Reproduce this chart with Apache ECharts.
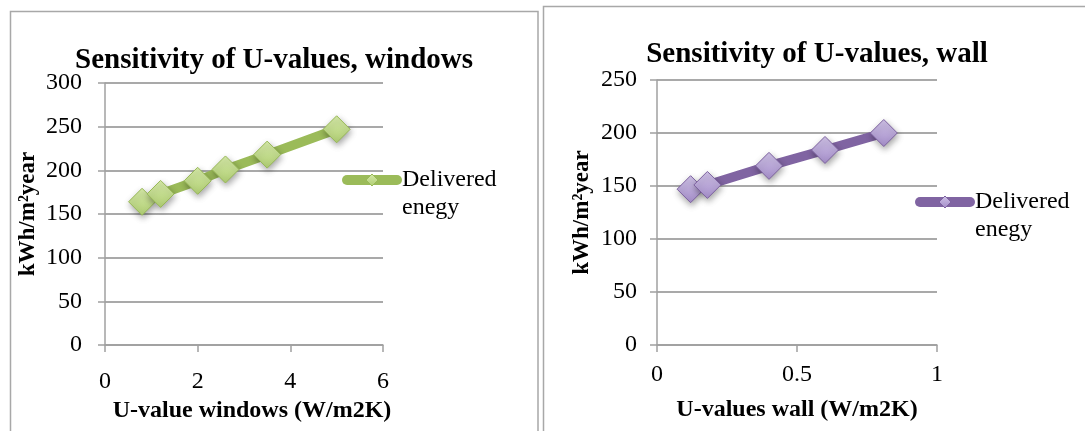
<!DOCTYPE html>
<html>
<head>
<meta charset="utf-8">
<script src="https://cdn.jsdelivr.net/npm/echarts@6/dist/echarts.min.js"></script>
<style>
  html, body { margin: 0; padding: 0; background: #ffffff; }
  #chart { width: 1085px; height: 431px; }
</style>
</head>
<body>
<div id="chart"></div>
<script>
// Delivered energy vs. U-value of windows
const windowsU = [0.8, 1.2, 2, 2.6, 3.5, 5];
const windowsEnergy = [164, 173, 188, 201, 218, 247];

// Delivered energy vs. U-value of walls
const wallU = [0.12, 0.18, 0.4, 0.6, 0.81];
const wallEnergy = [147, 151, 169, 184, 200];

const seriesName = 'Delivered enegy';
const titles = ['Sensitivity of U-values, windows', 'Sensitivity of U-values, wall'];
const xNames = ['U-value windows (W/m2K)', 'U-values wall (W/m2K)'];
const yName = 'kWh/m\u00B2year';

const FONT = '"Liberation Serif", "DejaVu Serif", serif';
const pairs = (xs, ys) => xs.map((x, i) => [x, ys[i]]);

const green = {
  line: '#9bbb59',
  fill: new echarts.graphic.LinearGradient(0, 0, 0, 1, [
    { offset: 0, color: '#d6eaa9' },
    { offset: 1, color: '#afcd72' }
  ]),
  border: '#98b957'
};
const purple = {
  line: '#8064a2',
  fill: new echarts.graphic.LinearGradient(0, 0, 0, 1, [
    { offset: 0, color: '#cfc2e6' },
    { offset: 1, color: '#a48dc9' }
  ]),
  border: '#7d62a0'
};

function axisCommon() {
  return {
    axisLine: { show: true, lineStyle: { color: '#a0a0a0', width: 1.5 } },
    axisTick: { show: true, inside: false, length: 7, lineStyle: { color: '#a0a0a0', width: 1.5 } },
    axisLabel: { color: '#000', fontFamily: FONT, fontSize: 24 }
  };
}

function lineSeries(idx, data, c) {
  return {
    name: seriesName,
    type: 'line',
    xAxisIndex: idx,
    yAxisIndex: idx,
    data: data,
    symbol: 'diamond',
    symbolSize: 27,
    lineStyle: { color: c.line, width: 9.5 },
    itemStyle: {
      color: c.fill,
      borderColor: c.border,
      borderWidth: 1,
      shadowColor: 'rgba(0,0,0,0.35)',
      shadowBlur: 6,
      shadowOffsetX: 1,
      shadowOffsetY: 3
    },
    emphasis: { disabled: true },
    animation: false,
    z: 3
  };
}

// legend entry: the leading blank line keeps "Delivered" level with the icon
function legendFor(idx, left, top, c) {
  return {
    seriesIndex: idx,
    data: [{ name: seriesName }],
    left: left,
    top: top,
    orient: 'vertical',
    padding: 0,
    itemWidth: 50,
    itemHeight: 15,
    itemGap: 0,
    selectedMode: false,
    formatter: (n) => ' \n' + n.replace(' ', '\n'),
    lineStyle: { width: 10, color: c.line, cap: 'round' },
    itemStyle: { color: c.fill, borderColor: c.border, borderWidth: 1 },
    textStyle: { color: '#000', fontFamily: FONT, fontSize: 24, lineHeight: 28 }
  };
}

const chart = echarts.init(document.getElementById('chart'), null, { renderer: 'canvas' });

chart.setOption({
  backgroundColor: '#ffffff',
  animation: false,
  graphic: [
    { type: 'rect', shape: { x: 10.5, y: 11.5, width: 527.5, height: 460 },
      style: { fill: 'none', stroke: '#a8a8a8', lineWidth: 1.5 }, silent: true },
    { type: 'rect', shape: { x: 543.5, y: 6.5, width: 560, height: 460 },
      style: { fill: 'none', stroke: '#a8a8a8', lineWidth: 1.5 }, silent: true }
  ],
  title: [
    { text: titles[0], left: 274, top: 46, textAlign: 'center', padding: 0,
      textStyle: { fontFamily: FONT, fontSize: 29, fontWeight: 'bold', color: '#000' } },
    { text: titles[1], left: 817, top: 40, textAlign: 'center', padding: 0,
      textStyle: { fontFamily: FONT, fontSize: 29, fontWeight: 'bold', color: '#000' } }
  ],
  legend: [
    legendFor(0, 342, 138, green),
    legendFor(1, 915, 160, purple)
  ],
  grid: [
    { left: 105, top: 83, width: 278, height: 262, containLabel: false },
    { left: 657, top: 80, width: 280, height: 265, containLabel: false }
  ],
  xAxis: [
    Object.assign(axisCommon(), {
      type: 'value', gridIndex: 0, min: 0, max: 6, interval: 2,
      splitLine: { show: false },
      name: xNames[0], nameLocation: 'middle', nameGap: 53,
      nameTextStyle: { fontFamily: FONT, fontSize: 24, fontWeight: 'bold', color: '#000',
        padding: [0, 0, 0, 16] }
    }),
    Object.assign(axisCommon(), {
      type: 'value', gridIndex: 1, min: 0, max: 1, interval: 0.5,
      splitLine: { show: false },
      name: xNames[1], nameLocation: 'middle', nameGap: 53,
      nameTextStyle: { fontFamily: FONT, fontSize: 24, fontWeight: 'bold', color: '#000' }
    })
  ],
  yAxis: [
    Object.assign(axisCommon(), {
      type: 'value', gridIndex: 0, min: 0, max: 300, interval: 50,
      splitLine: { show: true, lineStyle: { color: '#8c8c8c', width: 1.5 } },
      name: yName, nameLocation: 'middle', nameRotate: 90, nameGap: 65,
      nameTextStyle: { fontFamily: FONT, fontSize: 23, fontWeight: 'bold', color: '#000' }
    }),
    Object.assign(axisCommon(), {
      type: 'value', gridIndex: 1, min: 0, max: 250, interval: 50,
      splitLine: { show: true, lineStyle: { color: '#8c8c8c', width: 1.5 } },
      name: yName, nameLocation: 'middle', nameRotate: 90, nameGap: 63,
      nameTextStyle: { fontFamily: FONT, fontSize: 23, fontWeight: 'bold', color: '#000' }
    })
  ],
  series: [
    lineSeries(0, pairs(windowsU, windowsEnergy), green),
    lineSeries(1, pairs(wallU, wallEnergy), purple)
  ]
});

// per-axis label margins
chart.setOption({
  xAxis: [{ axisLabel: { margin: 25 } }, { axisLabel: { margin: 18 } }],
  yAxis: [{ axisLabel: { margin: 23 } }, { axisLabel: { margin: 20 } }]
});
</script>
</body>
</html>
